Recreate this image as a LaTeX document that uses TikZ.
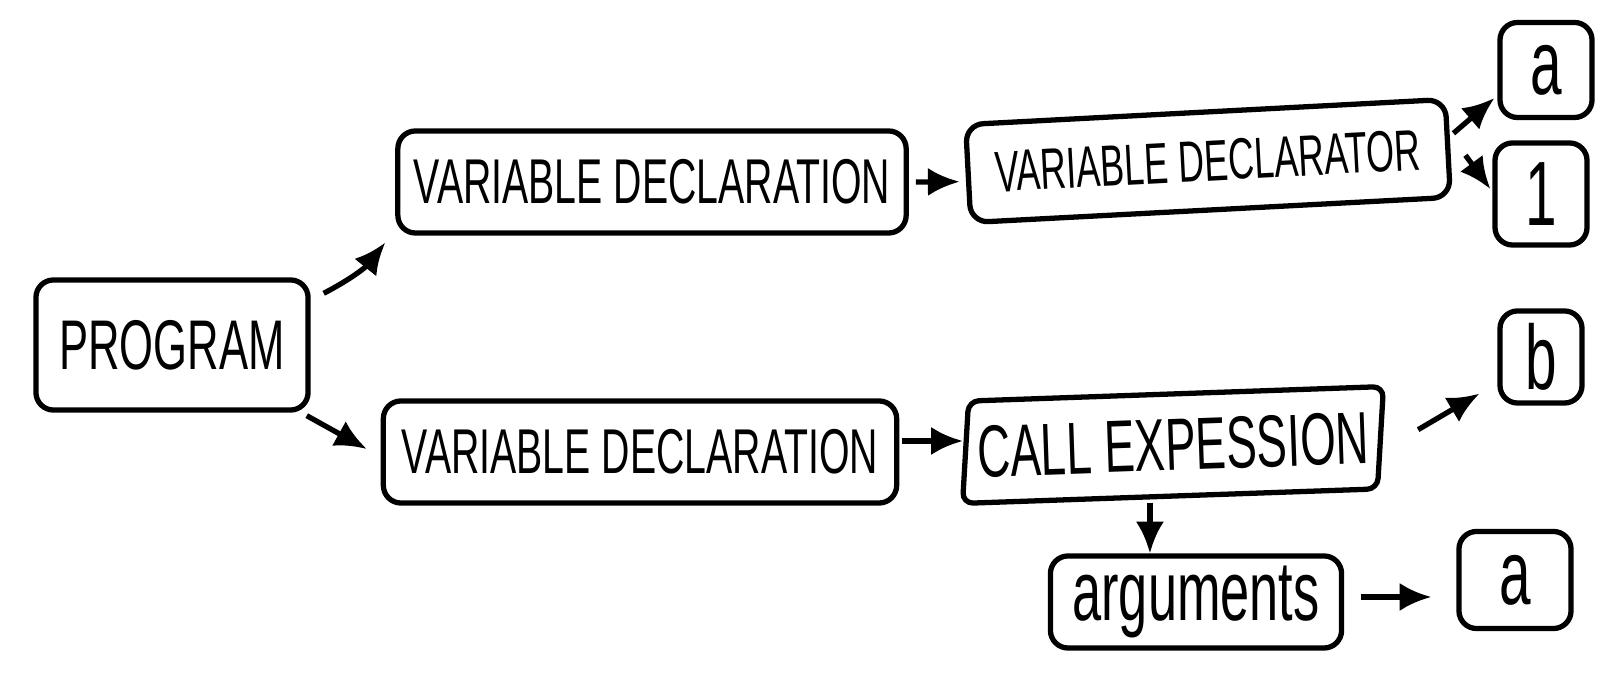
\documentclass[tikz,border=0pt]{standalone}
\usepackage{fontspec}
\newfontfamily\hand[FakeStretch=0.62]{Liberation Sans}
\usetikzlibrary{arrows.meta,shapes.geometric}
\begin{document}
\begin{tikzpicture}[x=0.01cm,y=-0.01cm,
  box/.style={draw, line width=1.5pt, rounded corners=5pt, inner sep=0pt, align=center},
  arr/.style={line width=1.5pt, -{Latex[length=9pt,width=8pt]}},
]
\useasboundingbox[fill=white] (0,0) rectangle (1600,677);

\node[box, minimum width=2.72cm, minimum height=1.30cm, font=\hand\fontsize{20}{24}\selectfont] (prog) at (172,345) {PROGRAM};
\node[box, minimum width=5.08cm, minimum height=1.02cm, font=\hand\fontsize{18}{22}\selectfont] (vd1) at (652,182) {VARIABLE DECLARATION};
\node[box, minimum width=5.13cm, minimum height=1.02cm, font=\hand\fontsize{18}{22}\selectfont] (vd2) at (640,452) {VARIABLE DECLARATION};
\node[box, rotate=3, minimum width=4.80cm, minimum height=0.98cm, font=\hand\fontsize{16.5}{20}\selectfont] (vdor) at (1208,161) {VARIABLE DECLARATOR};
\node[box, rounded corners=3pt, trapezium, trapezium left angle=80, trapezium right angle=100, trapezium stretches=true, rotate=2, minimum width=4.25cm, minimum height=1.02cm, font=\hand\fontsize{21}{25}\selectfont] (call) at (1173,445) {CALL EXPESSION};
\node[box, minimum width=2.91cm, minimum height=0.92cm, font=\hand\fontsize{24}{28}\selectfont] (args) at (1196,602) {arguments};
\node[box, minimum width=0.92cm, minimum height=0.95cm, font=\hand\fontsize{26}{30}\selectfont] (a1) at (1546,70) {a};
\node[box, minimum width=0.92cm, minimum height=1.02cm, font=\hand\fontsize{26}{30}\selectfont] (one) at (1541,194) {1};
\node[box, minimum width=0.82cm, minimum height=0.92cm, font=\hand\fontsize{26}{30}\selectfont] (b) at (1541,357) {b};
\node[box, minimum width=1.12cm, minimum height=0.97cm, font=\hand\fontsize{26}{30}\selectfont] (a2) at (1515,580) {a};

\coordinate (vd2out) at ([shift={(3,-11)}]vd2.east);
\coordinate (callout) at ([shift={(-25,4)}]call.south);
\coordinate (argsout) at ([shift={(17,-5)}]args.east);

\draw[arr] ([shift={(13,16)}]prog.north east) to[bend right=12] ([shift={(-10,7)}]vd1.south west);
\draw[arr] ([shift={(-4,3)}]prog.south east) -- ([shift={(-14,-3)}]vd2.west);
\draw[arr] ([shift={(7,0)}]vd1.east) -- ([shift={(-6,8)}]vdor.west);
\draw[arr] ([shift={(3,-15)}]vdor.east) -- ([shift={(-3,-22)}]a1.south west);
\draw[arr] ([shift={(15,7)}]vdor.east) -- ([shift={(-2,-5)}]one.west);
\draw[arr] (vd2out) -- (vd2out -| call.west);
\draw[arr] ([shift={(35,-8)}]call.east) -- ([shift={(-18,-12)}]b.south west);
\draw[arr] (callout) -- (callout |- args.north);
\draw[arr] (argsout) -- ([xshift=-0.25cm]argsout -| a2.west);
\end{tikzpicture}
\end{document}
